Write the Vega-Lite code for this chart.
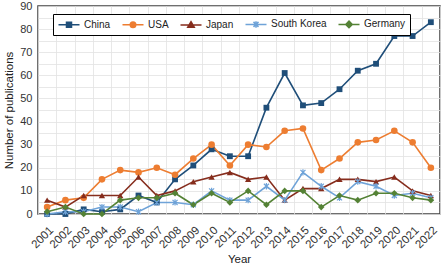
{
  "$schema": "https://vega.github.io/schema/vega-lite/v6.json",
  "width": 402,
  "height": 208,
  "autosize": {"type": "none"},
  "padding": {"left": 38, "top": 6, "right": 4, "bottom": 53},
  "config": {
    "font": "Liberation Sans",
    "view": {"stroke": "#404040", "strokeWidth": 1.5},
    "axis": {"labelColor": "#333333", "titleColor": "#222222", "labelFontSize": 11, "titleFontSize": 11.5, "titleFontWeight": "normal", "gridColor": "#e2e2e2", "gridWidth": 0.8, "domain": false, "ticks": false}
  },
  "datasets": {
    "pubs": [
      {"year": "2001", "country": "China", "value": 0},
      {"year": "2002", "country": "China", "value": 0},
      {"year": "2003", "country": "China", "value": 2},
      {"year": "2004", "country": "China", "value": 1},
      {"year": "2005", "country": "China", "value": 2},
      {"year": "2006", "country": "China", "value": 8},
      {"year": "2007", "country": "China", "value": 5},
      {"year": "2008", "country": "China", "value": 15},
      {"year": "2009", "country": "China", "value": 21},
      {"year": "2010", "country": "China", "value": 28},
      {"year": "2011", "country": "China", "value": 25},
      {"year": "2012", "country": "China", "value": 25},
      {"year": "2013", "country": "China", "value": 46},
      {"year": "2014", "country": "China", "value": 61},
      {"year": "2015", "country": "China", "value": 47},
      {"year": "2016", "country": "China", "value": 48},
      {"year": "2017", "country": "China", "value": 54},
      {"year": "2018", "country": "China", "value": 62},
      {"year": "2019", "country": "China", "value": 65},
      {"year": "2020", "country": "China", "value": 77},
      {"year": "2021", "country": "China", "value": 77},
      {"year": "2022", "country": "China", "value": 83},
      {"year": "2001", "country": "USA", "value": 3},
      {"year": "2002", "country": "USA", "value": 6},
      {"year": "2003", "country": "USA", "value": 7},
      {"year": "2004", "country": "USA", "value": 15},
      {"year": "2005", "country": "USA", "value": 19},
      {"year": "2006", "country": "USA", "value": 18},
      {"year": "2007", "country": "USA", "value": 20},
      {"year": "2008", "country": "USA", "value": 17},
      {"year": "2009", "country": "USA", "value": 24},
      {"year": "2010", "country": "USA", "value": 30},
      {"year": "2011", "country": "USA", "value": 21},
      {"year": "2012", "country": "USA", "value": 30},
      {"year": "2013", "country": "USA", "value": 29},
      {"year": "2014", "country": "USA", "value": 36},
      {"year": "2015", "country": "USA", "value": 37},
      {"year": "2016", "country": "USA", "value": 19},
      {"year": "2017", "country": "USA", "value": 24},
      {"year": "2018", "country": "USA", "value": 31},
      {"year": "2019", "country": "USA", "value": 32},
      {"year": "2020", "country": "USA", "value": 36},
      {"year": "2021", "country": "USA", "value": 31},
      {"year": "2022", "country": "USA", "value": 20},
      {"year": "2001", "country": "Japan", "value": 6},
      {"year": "2002", "country": "Japan", "value": 3},
      {"year": "2003", "country": "Japan", "value": 8},
      {"year": "2004", "country": "Japan", "value": 8},
      {"year": "2005", "country": "Japan", "value": 8},
      {"year": "2006", "country": "Japan", "value": 16},
      {"year": "2007", "country": "Japan", "value": 8},
      {"year": "2008", "country": "Japan", "value": 10},
      {"year": "2009", "country": "Japan", "value": 14},
      {"year": "2010", "country": "Japan", "value": 16},
      {"year": "2011", "country": "Japan", "value": 18},
      {"year": "2012", "country": "Japan", "value": 15},
      {"year": "2013", "country": "Japan", "value": 16},
      {"year": "2014", "country": "Japan", "value": 6},
      {"year": "2015", "country": "Japan", "value": 11},
      {"year": "2016", "country": "Japan", "value": 11},
      {"year": "2017", "country": "Japan", "value": 15},
      {"year": "2018", "country": "Japan", "value": 15},
      {"year": "2019", "country": "Japan", "value": 14},
      {"year": "2020", "country": "Japan", "value": 16},
      {"year": "2021", "country": "Japan", "value": 10},
      {"year": "2022", "country": "Japan", "value": 8},
      {"year": "2001", "country": "South Korea", "value": 0},
      {"year": "2002", "country": "South Korea", "value": 1},
      {"year": "2003", "country": "South Korea", "value": 1},
      {"year": "2004", "country": "South Korea", "value": 3},
      {"year": "2005", "country": "South Korea", "value": 3},
      {"year": "2006", "country": "South Korea", "value": 1},
      {"year": "2007", "country": "South Korea", "value": 5},
      {"year": "2008", "country": "South Korea", "value": 5},
      {"year": "2009", "country": "South Korea", "value": 4},
      {"year": "2010", "country": "South Korea", "value": 10},
      {"year": "2011", "country": "South Korea", "value": 6},
      {"year": "2012", "country": "South Korea", "value": 6},
      {"year": "2013", "country": "South Korea", "value": 12},
      {"year": "2014", "country": "South Korea", "value": 6},
      {"year": "2015", "country": "South Korea", "value": 18},
      {"year": "2016", "country": "South Korea", "value": 12},
      {"year": "2017", "country": "South Korea", "value": 7},
      {"year": "2018", "country": "South Korea", "value": 14},
      {"year": "2019", "country": "South Korea", "value": 12},
      {"year": "2020", "country": "South Korea", "value": 8},
      {"year": "2021", "country": "South Korea", "value": 9},
      {"year": "2022", "country": "South Korea", "value": 7},
      {"year": "2001", "country": "Germany", "value": 1},
      {"year": "2002", "country": "Germany", "value": 3},
      {"year": "2003", "country": "Germany", "value": 0},
      {"year": "2004", "country": "Germany", "value": 0},
      {"year": "2005", "country": "Germany", "value": 6},
      {"year": "2006", "country": "Germany", "value": 7},
      {"year": "2007", "country": "Germany", "value": 7},
      {"year": "2008", "country": "Germany", "value": 9},
      {"year": "2009", "country": "Germany", "value": 4},
      {"year": "2010", "country": "Germany", "value": 9},
      {"year": "2011", "country": "Germany", "value": 5},
      {"year": "2012", "country": "Germany", "value": 10},
      {"year": "2013", "country": "Germany", "value": 4},
      {"year": "2014", "country": "Germany", "value": 10},
      {"year": "2015", "country": "Germany", "value": 10},
      {"year": "2016", "country": "Germany", "value": 3},
      {"year": "2017", "country": "Germany", "value": 8},
      {"year": "2018", "country": "Germany", "value": 6},
      {"year": "2019", "country": "Germany", "value": 9},
      {"year": "2020", "country": "Germany", "value": 9},
      {"year": "2021", "country": "Germany", "value": 7},
      {"year": "2022", "country": "Germany", "value": 6}
    ]
  },
  "data": {"name": "pubs"},
  "encoding": {
    "x": {
      "field": "year", "type": "ordinal", "title": "Year",
      "scale": {"type": "band", "paddingInner": 0, "paddingOuter": 0},
      "axis": {"labelAngle": -45, "labelFontSize": 11.5, "labelPadding": 10, "tickBand": "extent", "grid": true, "titleY": 48, "titleBaseline": "alphabetic"}
    },
    "y": {
      "field": "value", "type": "quantitative", "title": "Number of publications",
      "scale": {"domain": [0, 90], "nice": false},
      "axis": {"values": [0,5,10,15,20,25,30,35,40,45,50,55,60,65,70,75,80,85,90], "labelExpr": "datum.value % 10 == 0 ? datum.label : ''", "labelPadding": 6, "titleX": -26, "titleBaseline": "alphabetic"}
    },
    "color": {
      "field": "country", "type": "nominal", "title": null,
      "scale": {"domain": ["China", "USA", "Japan", "South Korea", "Germany"], "range": ["#1f4e79", "#ed7d31", "#862d1d", "#6fa3d8", "#548235"]}
    }
  },
  "layer": [
    {
      "mark": {"type": "line", "strokeWidth": 1.6}
    },
    {
      "transform": [{"filter": "datum.country == 'China'"}],
      "mark": {"type": "point", "shape": "square", "filled": true, "size": 34, "opacity": 1}
    },
    {
      "transform": [{"filter": "datum.country == 'USA'"}],
      "mark": {"type": "point", "shape": "circle", "filled": true, "size": 44, "opacity": 1}
    },
    {
      "transform": [{"filter": "datum.country == 'Japan'"}],
      "mark": {"type": "point", "shape": "triangle-up", "filled": true, "size": 40, "opacity": 1}
    },
    {
      "transform": [{"filter": "datum.country == 'South Korea'"}],
      "mark": {"type": "point", "shape": "M-0.8,-0.8L0.8,0.8M-0.8,0.8L0.8,-0.8M0,-1L0,1", "filled": false, "size": 40, "strokeWidth": 1.2, "opacity": 1}
    },
    {
      "transform": [{"filter": "datum.country == 'Germany'"}],
      "mark": {"type": "point", "shape": "diamond", "filled": true, "size": 44, "opacity": 1}
    },
    {
      "mark": {"type": "point", "filled": true, "opacity": 0, "strokeWidth": 1.5},
      "encoding": {
        "color": {
          "field": "country", "type": "nominal",
          "legend": {
            "title": null, "orient": "none", "direction": "horizontal", "legendX": 15, "legendY": 8,
            "strokeColor": "#000000", "fillColor": "#ffffff", "padding": 4,
            "labelFontSize": 10, "labelColor": "#222222", "columnPadding": 8,
            "symbolSize": 100, "symbolOffset": 6, "labelOffset": 9, "symbolOpacity": 1, "symbolStrokeWidth": 1.5
          }
        },
        "stroke": {
          "field": "country", "type": "nominal", "title": null,
          "scale": {"domain": ["China", "USA", "Japan", "South Korea", "Germany"], "range": ["#1f4e79", "#ed7d31", "#862d1d", "#6fa3d8", "#548235"]}
        },
        "shape": {
          "field": "country", "type": "nominal", "title": null,
          "scale": {"domain": ["China", "USA", "Japan", "South Korea", "Germany"], "range": [
            "M-2.1,0H2.1M-0.5,-0.5H0.5V0.5H-0.5Z",
            "M-2.1,0H2.1M0.55,0A0.55,0.55 0 1,1 -0.55,0A0.55,0.55 0 1,1 0.55,0Z",
            "M-2.1,0H2.1M0,-0.65L0.65,0.45L-0.65,0.45Z",
            "M-2.1,0H2.1M-0.5,-0.5L0.5,0.5M-0.5,0.5L0.5,-0.5M0,-0.65L0,0.65",
            "M-2.1,0H2.1M0,-0.65L0.65,0L0,0.65L-0.65,0Z"
          ]}
        }
      }
    }
  ]
}
